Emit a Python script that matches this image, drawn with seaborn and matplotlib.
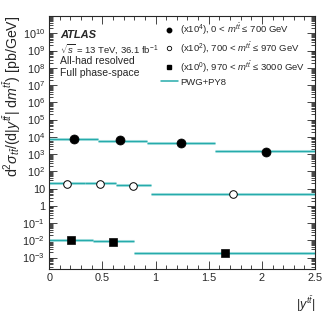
import matplotlib
matplotlib.use("Agg")
import matplotlib.pyplot as plt
import seaborn as sns
import numpy as np
from matplotlib.lines import Line2D
from matplotlib.ticker import LogLocator, MultipleLocator, FixedLocator, FixedFormatter, NullFormatter

# bins in |y_tt| and values per m_tt slice (already scaled)
edges_lo = [0, 0.46, 0.92, 1.56, 2.5]
edges_mid = [0, 0.34, 0.63, 0.96, 2.5]
edges_hi = [0, 0.41, 0.795, 2.5]

data_x_lo = [0.23, 0.67, 1.24, 2.04]
data_lo = [7000, 6500, 4600, 1300]
mc_lo = [7000, 5900, 4200, 1550]

data_x_mid = [0.167, 0.48, 0.79, 1.73]
data_mid = [19.5, 18.6, 15.0, 4.6]
mc_mid = [22, 20, 17, 4.9]

data_x_hi = [0.205, 0.60, 1.65]
data_hi = [0.0107, 0.0078, 0.0018]
mc_hi = [0.0107, 0.0089, 0.0019]

labels = [r"(x10$^{4}$), 0 < $m^{t\bar{t}}$ ≤ 700 GeV",
          r"(x10$^{2}$), 700 < $m^{t\bar{t}}$ ≤ 970 GeV",
          r"(x10$^{0}$), 970 < $m^{t\bar{t}}$ ≤ 3000 GeV",
          "PWG+PY8"]

sns.set_style("ticks")
plt.rcParams["font.family"] = ["Liberation Sans", "DejaVu Sans"]
plt.rcParams["mathtext.fontset"] = "custom"
plt.rcParams["mathtext.rm"] = "Liberation Sans"
plt.rcParams["mathtext.it"] = "Liberation Sans:italic"
plt.rcParams["mathtext.bf"] = "Liberation Sans:bold"

fig = plt.figure(figsize=(3.32, 3.22), dpi=100)
ax = fig.add_axes([0.148, 0.165, 0.801, 0.785])

mc_dark = "#26abab"
mc_light = "#b8e6e6"

for edges, vals in [(edges_lo, mc_lo), (edges_mid, mc_mid), (edges_hi, mc_hi)]:
    ax.hlines(vals, edges[:-1], edges[1:], colors=mc_light, linewidth=2.2, zorder=1)
    ax.hlines(vals, edges[:-1], edges[1:], colors=mc_dark, linewidth=1.0, zorder=2)

sns.scatterplot(x=data_x_lo, y=data_lo, marker="o", s=42, color="black",
                edgecolor="black", ax=ax, zorder=3)
sns.scatterplot(x=data_x_mid, y=data_mid, marker="o", s=30, facecolor="white",
                edgecolor="black", linewidth=0.7, ax=ax, zorder=3)
sns.scatterplot(x=data_x_hi, y=data_hi, marker="s", s=34, color="black",
                edgecolor="black", ax=ax, zorder=3)

ax.set_yscale("log")
ax.set_xlim(0, 2.5)
ax.set_ylim(2.2e-4, 1e11)

ax.xaxis.set_major_locator(MultipleLocator(0.5))
ax.xaxis.set_minor_locator(MultipleLocator(0.1))
ax.set_xticks([0, 0.5, 1, 1.5, 2, 2.5])
ax.set_xticklabels(["0", "0.5", "1", "1.5", "2", "2.5"])

ydec = [10.0 ** k for k in range(-3, 11)]
ylabs = []
for k in range(-3, 11):
    if k == 0:
        ylabs.append("1")
    elif k == 1:
        ylabs.append("10")
    else:
        ylabs.append(r"10$^{%d}$" % k)
ax.yaxis.set_major_locator(FixedLocator(ydec))
ax.yaxis.set_major_formatter(FixedFormatter(ylabs))
ax.yaxis.set_minor_locator(LogLocator(base=10, subs=np.arange(2, 10), numticks=30))
ax.yaxis.set_minor_formatter(NullFormatter())

ax.tick_params(which="both", direction="in", top=True, right=True, labelsize=7.8,
               width=0.6, pad=3)
ax.tick_params(which="major", length=6)
ax.tick_params(which="minor", length=3)
for sp in ax.spines.values():
    sp.set_linewidth(0.8)

ax.set_ylabel(r"d$^{2}\sigma_{t\bar{t}}$/(d|$y^{t\bar{t}}$| d$m^{t\bar{t}}$) [pb/GeV]",
              fontsize=10.2)
ax.yaxis.set_label_coords(-0.097, 1.0, transform=ax.transAxes)
ax.yaxis.label.set_ha("right")
ax.set_xlabel(r"|$y^{t\bar{t}}$|", fontsize=9, ha="right")
ax.xaxis.set_label_coords(1.0, -0.1)

ax.text(0.04, 0.925, "ATLAS", transform=ax.transAxes, fontsize=8,
        fontweight="bold", fontstyle="italic", va="center")
ax.text(0.04, 0.868, r"$\sqrt{s}$ = 13 TeV, 36.1 fb$^{-1}$", transform=ax.transAxes,
        fontsize=6.8, va="center")
ax.text(0.04, 0.822, "All-had resolved", transform=ax.transAxes, fontsize=7.5, va="center")
ax.text(0.04, 0.775, "Full phase-space", transform=ax.transAxes, fontsize=7.5, va="center")

handles = [
    Line2D([], [], marker="o", linestyle="none", color="black", markersize=3.2),
    Line2D([], [], marker="o", linestyle="none", markerfacecolor="white",
           markeredgecolor="black", markersize=3.2, markeredgewidth=0.6),
    Line2D([], [], marker="s", linestyle="none", color="black", markersize=3.0),
    Line2D([], [], color=mc_dark, linewidth=1.1),
]
ax.legend(handles, labels, loc="upper left", bbox_to_anchor=(0.405, 0.995),
          frameon=False, fontsize=6.8, handlelength=1.8, handletextpad=0.3,
          labelspacing=0.33, borderaxespad=0)

fig.savefig("out.png", dpi=100)
